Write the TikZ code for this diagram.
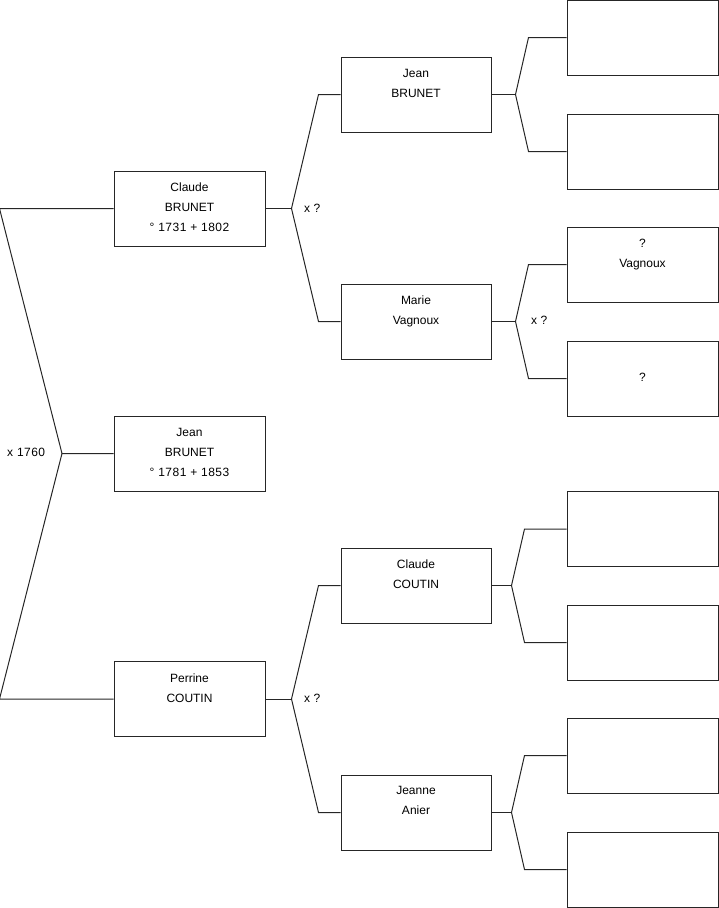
\documentclass[tikz,border=0pt]{standalone}
\usepackage{fontspec}
\setmainfont{Liberation Sans}
\newcommand{\wdsp}{\addfontfeatures{LetterSpace=4}}
\begin{document}
\begin{tikzpicture}[x=1pt,y=-1pt,
  box/.style={draw=black!85,line width=1pt,rectangle,inner sep=0pt,minimum width=151pt,minimum height=75pt},
  boxb/.style={box,minimum width=150pt},
  txt/.style={anchor=north,inner sep=0pt,align=center,font=\fontsize{12}{20}\selectfont},
  lbl/.style={anchor=west,inner sep=0pt,font=\fontsize{12}{14}\selectfont},
  conn/.style={draw=black!85,line width=1pt}]
\useasboundingbox (0,0) rectangle (719,908);
% generation 1
\node[box] (c1) at (189.5,208.5) {};
\node[box] (m1) at (189.5,453.5) {};
\node[box] (p1) at (189.5,699) {};
% generation 2
\node[boxb] (g2a) at (416,94.5) {};
\node[boxb] (g2b) at (416,321.5) {};
\node[boxb] (g2c) at (416,585.5) {};
\node[boxb] (g2d) at (416,812.5) {};
% generation 3
\node[box] (g3a) at (642.5,37.5) {};
\node[box] (g3b) at (642.5,151.5) {};
\node[box] (g3c) at (642.5,264.5) {};
\node[box] (g3d) at (642.5,378.5) {};
\node[box] (g3e) at (642.5,529) {};
\node[box] (g3f) at (642.5,642.5) {};
\node[box] (g3g) at (642.5,755.5) {};
\node[box] (g3h) at (642.5,869.5) {};
% texts
\node[txt] at ([yshift=-12.5pt]c1.north) {Claude\\BRUNET\\{\wdsp° 1731 + 1802}};
\node[txt] at ([yshift=-12.5pt]m1.north) {Jean\\BRUNET\\{\wdsp° 1781 + 1853}};
\node[txt] at ([yshift=-12.5pt]p1.north) {Perrine\\COUTIN};
\node[txt] at ([yshift=-12.5pt]g2a.north) {Jean\\BRUNET};
\node[txt] at ([yshift=-12pt]g2b.north) {Marie\\Vagnoux};
\node[txt] at ([yshift=-12pt]g2c.north) {Claude\\COUTIN};
\node[txt] at ([yshift=-12pt]g2d.north) {Jeanne\\Anier};
\node[txt] at ([yshift=-12.5pt]g3c.north) {?\\Vagnoux};
\node[txt] at ([yshift=-32.5pt]g3d.north) {?};
% root connectors
\coordinate (r0) at (62,453.5);
\draw[conn] (c1.west) -- ([xshift=-114pt]c1.west) -- (r0) -- (m1.west);
\draw[conn] (r0) -- ([xshift=-114pt]p1.west) -- (p1.west);
\node[lbl] at (7,452) {\wdsp x 1760};
% generation 1 -> 2
\coordinate (a1) at ([xshift=26pt]c1.east);
\draw[conn] (c1.east) -- (a1);
\draw[conn] (g2a.west) -- ([xshift=-22pt]g2a.west) -- (a1) -- ([xshift=-22pt]g2b.west) -- (g2b.west);
\node[lbl] at (304,208) {x ?};
\coordinate (a2) at ([xshift=26pt]p1.east);
\draw[conn] (p1.east) -- (a2);
\draw[conn] (g2c.west) -- ([xshift=-22pt]g2c.west) -- (a2) -- ([xshift=-22pt]g2d.west) -- (g2d.west);
\node[lbl] at (304,698) {x ?};
% generation 2 -> 3
\coordinate (b1) at ([xshift=24pt]g2a.east);
\draw[conn] (g2a.east) -- (b1);
\draw[conn] (g3a.west) -- ([xshift=-38pt]g3a.west) -- (b1) -- ([xshift=-38pt]g3b.west) -- (g3b.west);
\coordinate (b2) at ([xshift=24pt]g2b.east);
\draw[conn] (g2b.east) -- (b2);
\draw[conn] (g3c.west) -- ([xshift=-38pt]g3c.west) -- (b2) -- ([xshift=-38pt]g3d.west) -- (g3d.west);
\node[lbl] at (531,320) {x ?};
\coordinate (b3) at ([xshift=20pt]g2c.east);
\draw[conn] (g2c.east) -- (b3);
\draw[conn] (g3e.west) -- ([xshift=-42pt]g3e.west) -- (b3) -- ([xshift=-42pt]g3f.west) -- (g3f.west);
\coordinate (b4) at ([xshift=20pt]g2d.east);
\draw[conn] (g2d.east) -- (b4);
\draw[conn] (g3g.west) -- ([xshift=-42pt]g3g.west) -- (b4) -- ([xshift=-42pt]g3h.west) -- (g3h.west);
\end{tikzpicture}
\end{document}
